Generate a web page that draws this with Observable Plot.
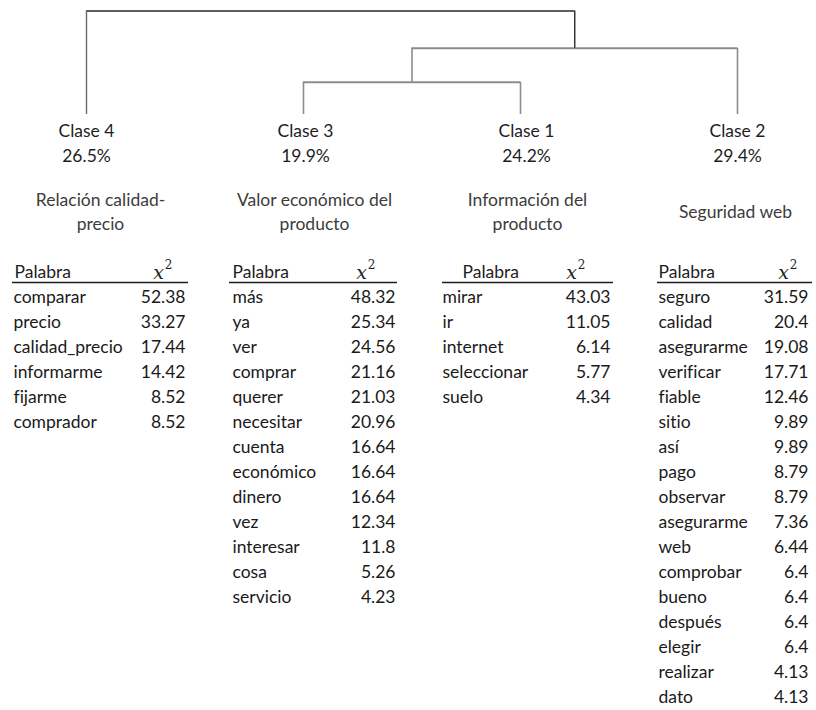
<!DOCTYPE html>
<html><head><meta charset="utf-8">
<script src="https://cdn.jsdelivr.net/npm/d3@7"></script>
<script src="https://cdn.jsdelivr.net/npm/@observablehq/plot@0.6"></script>
<style>
body{margin:0;background:#fff;}
#chart svg{display:block;}
#chart text{font-variant-ligatures:none;font-feature-settings:"liga" 0;}
</style>
</head><body><div id="chart"></div>
<script>
// ---- data ----
const classes = ["Clase 4", "Clase 3", "Clase 1", "Clase 2"];
const percents = [26.5, 19.9, 24.2, 29.4];
const themes = ["Relación calidad-\nprecio", "Valor económico del\nproducto", "Información del\nproducto", "Seguridad web"];
// dendrogram merges (numeric a/b refer to earlier merges), heights in arbitrary units
const mergeA = ["Clase 3", 0, "Clase 4"];
const mergeB = ["Clase 1", "Clase 2", 1];
const mergeHeights = [1.0, 2.05, 3.2];

const words4 = ["comparar", "precio", "calidad_precio", "informarme", "fijarme", "comprador"];
const chi4 = [52.38, 33.27, 17.44, 14.42, 8.52, 8.52];
const words3 = ["más", "ya", "ver", "comprar", "querer", "necesitar", "cuenta", "económico", "dinero", "vez", "interesar", "cosa", "servicio"];
const chi3 = [48.32, 25.34, 24.56, 21.16, 21.03, 20.96, 16.64, 16.64, 16.64, 12.34, 11.8, 5.26, 4.23];
const words1 = ["mirar", "ir", "internet", "seleccionar", "suelo"];
const chi1 = [43.03, 11.05, 6.14, 5.77, 4.34];
const words2 = ["seguro", "calidad", "asegurarme", "verificar", "fiable", "sitio", "así", "pago", "observar", "asegurarme", "web", "comprobar", "bueno", "después", "elegir", "realizar", "dato"];
const chi2 = [31.59, 20.4, 19.08, 17.71, 12.46, 9.89, 9.89, 8.79, 8.79, 7.36, 6.44, 6.4, 6.4, 6.4, 6.4, 4.13, 4.13];
const colHeaders = ["Palabra", "x", "2"];

// ---- layout (pixel offsets relative to each leaf) ----
const layout = {
  "Clase 4": {label: 0, title: 14, word: -73, num: 99, chiHead: 72, ruleL: -74, ruleR: 102, head: -72},
  "Clase 3": {label: 2, title: 11, word: -71, num: 92, chiHead: 58, ruleL: -74, ruleR: 94, head: -71},
  "Clase 1": {label: 6, title: 7, word: -78, num: 90, chiHead: 51, ruleL: -78, ruleR: 93, head: -58},
  "Clase 2": {label: 0, title: -2, word: -79, num: 71, chiHead: 46, ruleL: -80, ruleR: 75, head: -79}
};
const tables = {
  "Clase 4": {words: words4, chi: chi4},
  "Clase 3": {words: words3, chi: chi3},
  "Clase 1": {words: words1, chi: chi1},
  "Clase 2": {words: words2, chi: chi2}
};

const FONT = "Lato, 'Open Sans', sans-serif";
const FS = 17.5;
const xScale = {domain: [0, classes.length - 1], range: [86, 737]};

// ---- dendrogram ----
const nodes = classes.map((c, i) => ({pos: i, h: 0}));
const nodeOf = (r) => typeof r === "number" ? clusters[r] : nodes[classes.indexOf(r)];
const clusters = [];
const hSegs = [], vSegs = [];
mergeHeights.forEach((h, k) => {
  const A = nodeOf(mergeA[k]), B = nodeOf(mergeB[k]);
  const top = k === mergeHeights.length - 1;
  hSegs.push({x1: A.pos, x2: B.pos, y: h, top});
  vSegs.push({x: A.pos, y1: A.h, y2: h, top, leftLeaf: top && typeof mergeA[k] !== "number"});
  vSegs.push({x: B.pos, y1: B.h, y2: h, top});
  clusters.push({pos: (A.pos + B.pos) / 2, h});
});

const dendro = Plot.plot({
  width: 816, height: 116,
  x: {...xScale, axis: null},
  y: {domain: [0, 3.2], range: [114, 10.5], axis: null},
  style: {fontFamily: FONT},
  marks: [
    Plot.ruleY(hSegs, {x1: "x1", x2: "x2", y: "y", stroke: d => d.top ? "#2a2a2a" : "#8c8c8c", strokeWidth: d => d.top ? 1.4 : 2}),
    Plot.ruleX(vSegs, {x: "x", y1: "y1", y2: "y2", stroke: d => d.leftLeaf ? "#6a6a6a" : d.top ? "#2a2a2a" : "#8c8c8c", strokeWidth: d => d.top ? 1.4 : 1.6})
  ]
});

// ---- labels and tables ----
const marks = [];
classes.forEach((c, i) => {
  const L = layout[c];
  const T = tables[c];
  marks.push(Plot.text([c + "\n" + percents[i].toFixed(1) + "%"], {x: () => i, y: () => -6.26, text: d => d, dx: L.label, fontSize: FS, fill: "#1e1e1e", lineHeight: 25 / FS}));
  marks.push(Plot.text([themes[i]], {x: () => i, y: () => -3.48, text: d => d, dx: L.title, fontSize: FS, fill: "#3c3c3c", lineHeight: 24 / FS}));
  marks.push(Plot.text([colHeaders[0]], {x: () => i, y: () => -1, text: d => d, dx: L.head, textAnchor: "start", fontSize: FS, fill: "#1e1e1e"}));
  marks.push(Plot.text([colHeaders[1]], {x: () => i, y: () => -1, text: d => d, dx: L.chiHead, fontSize: 19, fontStyle: "italic", fontFamily: "'DejaVu Serif', serif", fill: "#1e1e1e"}));
  marks.push(Plot.text([colHeaders[2]], {x: () => i, y: () => -1.28, text: d => d, dx: L.chiHead + 10, fontSize: 12, fontFamily: "'DejaVu Serif', serif", fill: "#1e1e1e"}));
  marks.push(Plot.ruleY([-0.6], {x1: () => i, x2: () => i, y: d => d, insetLeft: L.ruleL, insetRight: -L.ruleR, stroke: "#1e1e1e", strokeWidth: 1.6}));
  marks.push(Plot.text(T.words, {x: () => i, y: (d, j) => j, text: d => d, dx: L.word, textAnchor: "start", fontSize: FS, fill: "#1a1a1a"}));
  marks.push(Plot.text(T.chi, {x: () => i, y: (d, j) => j, text: d => String(d), dx: L.num, textAnchor: "end", fontSize: FS, fill: "#1a1a1a"}));
});

const body = Plot.plot({
  width: 816, height: 594,
  x: {...xScale, axis: null},
  y: {domain: [0, 16], range: [181, 581], axis: null},
  style: {fontFamily: FONT},
  marks
});

document.getElementById("chart").append(dendro, body);
</script>
</body></html>
